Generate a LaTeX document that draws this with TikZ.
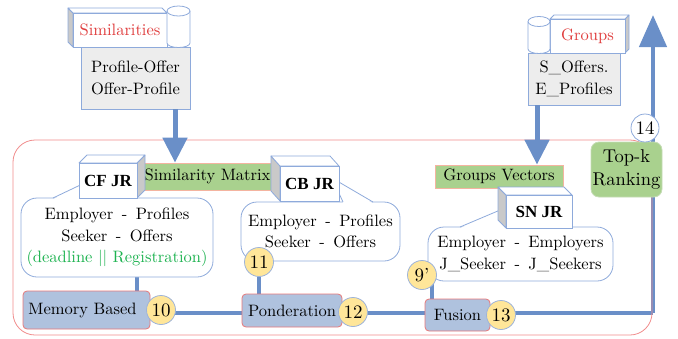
\documentclass[tikz,border=0pt]{standalone}
\usepackage{fontspec}
\setmainfont{lmroman10-regular.otf}[BoldFont=lmroman10-bold.otf]
\newfontfamily\jrfont{Liberation Serif}
\usetikzlibrary{arrows.meta}
\pgfdeclarelayer{bg}
\pgfsetlayers{bg,main}
\newcommand\mydash{\hspace{8.5pt}-\hspace{8.5pt}}
\definecolor{arrowblue}{HTML}{6A8FC8}
\definecolor{lineblue}{HTML}{8EAADB}
\definecolor{procfill}{HTML}{AFC2DE}
\definecolor{procborder}{HTML}{E87878}
\definecolor{numfill}{HTML}{FFE699}
\definecolor{numborder}{HTML}{9DB3D9}
\definecolor{grnfill}{HTML}{A9D18E}
\definecolor{grnborder}{HTML}{F4B4A0}
\definecolor{topkborder}{HTML}{C5DCB5}
\definecolor{framered}{HTML}{F08C8C}
\definecolor{paleg}{HTML}{EDEDED}
\definecolor{sideg}{HTML}{C9C9C9}
\definecolor{redtext}{HTML}{E03C3C}
\definecolor{grntext}{HTML}{1DB350}
\tikzset{
  txt/.style={font=\fontsize{16.5}{21.5}\selectfont, align=center, inner sep=0pt},
  procbox/.style={txt, rectangle, rounded corners=4pt, fill=procfill, draw=procborder, line width=0.8pt},
  numc/.style={txt, font=\fontsize{19}{21}\selectfont, circle, fill=numfill, draw=numborder, line width=0.8pt, minimum size=29pt},
  grnbox/.style={txt, rectangle, fill=grnfill, draw=grnborder, line width=0.8pt},
  callout/.style={txt, rectangle, rounded corners=16pt, fill=white, draw=lineblue, line width=0.8pt},
  infobox/.style={txt, rectangle, fill=paleg, draw=lineblue, line width=0.8pt},
  face/.style={fill=white, draw=lineblue, line width=0.8pt, line join=round},
  sideface/.style={fill=sideg, draw=lineblue, line width=0.8pt, line join=round},
  conn/.style={draw=arrowblue, line width=3.3pt},
  bigarrow/.style={draw=arrowblue, line width=5pt, -{Triangle[width=24pt,length=25pt]}},
  uparrow/.style={draw=arrowblue, line width=4.5pt, -{Triangle[width=27pt,length=32pt]}},
  jr/.style={font=\jrfont\fontsize{17}{20}\selectfont\bfseries, inner sep=0pt},
}
\begin{document}
\begin{tikzpicture}[x=1pt,y=-1pt]
\useasboundingbox (0,0) rectangle (678,338);
% frame
\draw[framered, line width=0.8pt, rounded corners=22pt] (13,140) rectangle (652,335);

% ---------- Similarities store ----------
\node[infobox, minimum width=109pt, minimum height=62pt] (simtxt) at (135.5,78) {Profile-Offer\\Offer-Profile};
\draw[sideface] (68,8) -- (73,13) -- (73,47) -- (68,42) -- cycle;
\draw[face] (68,8) -- (162,8) -- (167,13) -- (73,13) -- cycle;
\node[txt, rectangle, fill=white, draw=lineblue, line width=0.8pt, minimum width=94pt, minimum height=34pt, text=redtext] (simlab) at (120,30) {Similarities};
\draw[face] (167,11) -- (167,43) arc[start angle=180, end angle=360, x radius=11.5pt, y radius=4.5pt] -- (190,11);
\draw[face] (178.5,11) ellipse[x radius=11.5pt, y radius=5pt];

% ---------- Groups store ----------
\node[infobox, minimum width=92pt, minimum height=52pt] (grptxt) at (574,79) {S\_Offers.\\E\_Profiles};
\draw[sideface] (625,19) -- (629,15) -- (629,49) -- (625,53) -- cycle;
\draw[face] (550,19) -- (554,15) -- (629,15) -- (625,19) -- cycle;
\node[txt, rectangle, fill=white, draw=lineblue, line width=0.8pt, minimum width=75pt, minimum height=34pt, text=redtext] (grplab) at (587.5,36) {Groups};
\draw[face] (528,21.5) -- (528,49) arc[start angle=180, end angle=360, x radius=11pt, y radius=4.5pt] -- (550,21.5);
\draw[face] (539,21.5) ellipse[x radius=11pt, y radius=5pt];

% ---------- green boxes ----------
\node[grnbox, minimum width=135pt, minimum height=27pt] (simmat) at (207.5,176.5) {Similarity Matrix};
\node[grnbox, minimum width=128pt, minimum height=23pt] (grpvec) at (499,176.5) {Groups Vectors};
\node[txt, font=\fontsize{18.5}{23.5}\selectfont, rectangle, rounded corners=8pt, fill=grnfill, draw=topkborder, line width=0.8pt, minimum width=71pt, minimum height=55pt] (topk) at (626.5,169.5) {Top-k\\Ranking};

% ---------- callouts ----------
\node[callout, minimum width=192pt, minimum height=79pt] (cfcall) at (117,237.5) {Employer\mydash Profiles\\Seeker\mydash Offers\\\textcolor{grntext}{(deadline \textbar\textbar\ Registration)}};
\fill[white] (54,198.8) -- (95,178) -- (82,198.8) -- cycle;
\draw[lineblue, line width=0.8pt] (53,198) -- (95,178) -- (82,198);

\node[callout, minimum width=159pt, minimum height=59pt] (cbcall) at (320.5,231.5) {Employer\mydash Profiles\\Seeker\mydash Offers};
\fill[white] (372,202.8) -- (332,178) -- (343,202.8) -- cycle;
\draw[lineblue, line width=0.8pt] (373,202) -- (332,178) -- (343,202);

\node[callout, minimum width=185pt, minimum height=54pt] (sncall) at (520.5,254) {Employer\mydash Employers\\J\_Seeker\mydash J\_Seekers};
\fill[white] (461,227.8) -- (512,205) -- (505,227.8) -- cycle;
\draw[lineblue, line width=0.8pt] (460,227) -- (512,205) -- (505,227);

% ---------- 3D JR boxes ----------
% CF JR
\draw[sideface] (137,163) -- (145,155) -- (145,190) -- (137,198) -- cycle;
\draw[face] (79,163) -- (87,155) -- (145,155) -- (137,163) -- cycle;
\node[jr, rectangle, fill=white, draw=lineblue, line width=0.8pt, minimum width=58pt, minimum height=35pt] (cfjr) at (108,180.5) {CF JR};
% CB JR
\draw[sideface] (271,156) -- (280,166) -- (280,201) -- (271,191) -- cycle;
\draw[face] (271,156) -- (330,156) -- (339,166) -- (280,166) -- cycle;
\node[jr, rectangle, fill=white, draw=lineblue, line width=0.8pt, minimum width=59pt, minimum height=35pt] (cbjr) at (309.5,183.5) {CB JR};
% SN JR
\draw[sideface] (498,187) -- (506,195) -- (506,228) -- (498,220) -- cycle;
\draw[face] (498,187) -- (564,187) -- (572,195) -- (506,195) -- cycle;
\node[jr, rectangle, fill=white, draw=lineblue, line width=0.8pt, minimum width=66pt, minimum height=33pt] (snjr) at (539,211.5) {SN JR};

% ---------- process boxes ----------
\node[procbox, minimum width=127pt, minimum height=38pt] (mem) at (86.5,310) {Memory Based\hspace*{8pt}};
\node[procbox, minimum width=100pt, minimum height=33pt] (pond) at (292,310.5) {Ponderation};
\node[procbox, minimum width=65pt, minimum height=32pt] (fus) at (457.5,315) {Fusion};

% ---------- numbers ----------
\node[numc] (n10) at (161,310) {10};
\node[numc] (n11) at (259,262) {11};
\node[numc] (n12) at (353,312) {12};
\node[numc] (n13) at (501,315) {13};
\node[numc] (n9) at (422,275) {9'};
\node[numc, fill=white, draw=lineblue, minimum size=28pt] (n14) at (645,128) {14};

% ---------- connector coordinates ----------
\coordinate (simout) at (175,109);
\coordinate (grpout) at (537,105);
\coordinate (cfdown) at (137,277);
\coordinate (ninedown) at (432,284);
\coordinate (corner) at (653,313);
\coordinate (topkout) at (653,142);
\coordinate (uptip) at (653,15);

\begin{pgfonlayer}{bg}
\draw[conn] (cfdown) -- (cfdown |- mem.north);
\draw[conn] (n10.center |- corner) -- (n12.center |- corner);
\draw[conn] (n12.center |- corner) -- (corner);
\draw[conn] (corner) -- (corner |- topk.south);
\draw[conn] (n11) -- (n11 |- pond.north);
\draw[conn] (ninedown) -- (ninedown |- fus.north);
\draw[uparrow] (topkout) -- (uptip);
\end{pgfonlayer}
\draw[bigarrow] (simout) -- (simout |- simmat.north);
\draw[bigarrow] (grpout) -- (grpout |- grpvec.north);
\end{tikzpicture}
\end{document}
